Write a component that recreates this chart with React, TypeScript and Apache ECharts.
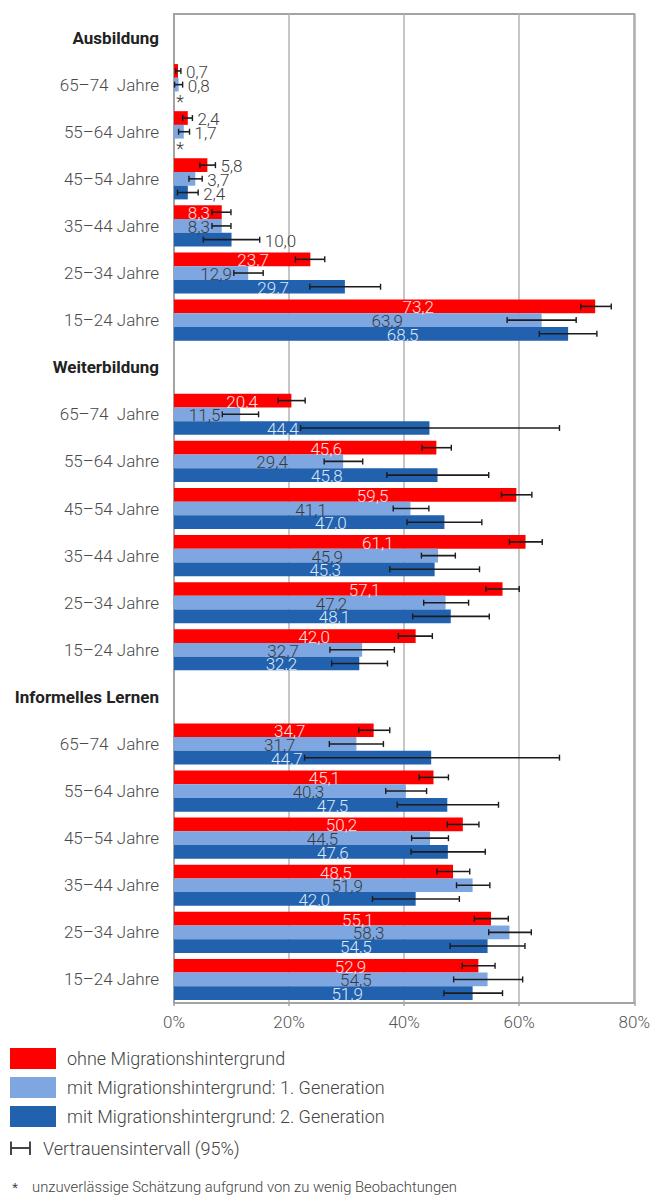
import { useEffect, useRef } from "react";
import * as echarts from "echarts";

// Sections and age groups (rows top to bottom within each section)
const sections = ["Ausbildung", "Weiterbildung", "Informelles Lernen"];
const ageGroups = ["65–74  Jahre", "55–64 Jahre", "45–54 Jahre", "35–44 Jahre", "25–34 Jahre", "15–24 Jahre"];

const seriesNames = [
  "ohne Migrationshintergrund",
  "mit Migrationshintergrund: 1. Generation",
  "mit Migrationshintergrund: 2. Generation",
];

// Participation in %, ordered Ausbildung, Weiterbildung, Informelles Lernen × age groups
const ohneMig = [0.7, 2.4, 5.8, 8.3, 23.7, 73.2, 20.4, 45.6, 59.5, 61.1, 57.1, 42.0, 34.7, 45.1, 50.2, 48.5, 55.1, 52.9];
const ohneMigLow = [0.3, 1.5, 4.5, 6.6, 21.1, 70.7, 18.1, 43.1, 56.9, 58.3, 54.2, 39.0, 32.1, 42.6, 47.5, 45.7, 52.2, 50.1];
const ohneMigHigh = [1.2, 3.2, 7.2, 9.9, 26.2, 76.0, 22.8, 48.2, 62.2, 64.0, 60.0, 44.9, 37.5, 47.7, 53.0, 51.4, 58.1, 55.8];

const gen1 = [0.8, 1.7, 3.7, 8.3, 12.9, 63.9, 11.5, 29.4, 41.1, 45.9, 47.2, 32.7, 31.7, 40.3, 44.5, 51.9, 58.3, 54.5];
const gen1Low = [0.1, 0.8, 2.6, 6.6, 10.4, 57.9, 8.4, 26.1, 38.1, 43.0, 43.4, 27.1, 27.0, 36.8, 41.3, 49.1, 54.7, 48.6];
const gen1High = [1.5, 2.7, 4.9, 9.9, 15.5, 69.9, 14.7, 32.8, 44.3, 48.9, 51.2, 38.3, 36.4, 43.9, 47.7, 54.9, 62.1, 60.6];

// null = unreliable estimate (too few observations), marked with *
const gen2 = [null, null, 2.4, 10.0, 29.7, 68.5, 44.4, 45.8, 47.0, 45.3, 48.1, 32.2, 44.7, 47.5, 47.6, 42.0, 54.5, 51.9];
const gen2Low = [null, null, 0.6, 5.1, 23.6, 63.5, 22.0, 37.0, 40.5, 37.5, 41.5, 27.4, 22.7, 38.8, 41.2, 34.5, 48.0, 46.9];
const gen2High = [null, null, 4.2, 14.9, 35.9, 73.5, 67.0, 54.7, 53.5, 53.1, 54.8, 37.1, 67.0, 56.4, 54.1, 49.6, 61.0, 57.1];

const xTicks = [0, 20, 40, 60, 80];

const colors = ["#ff0000", "#7ea7e1", "#2161ae"];
const insideLabelColors = ["#ffe2e2", "#3a3a3a", "#dce7f7"];
const outsideLabelColor = "#404040";
const FONT = "Roboto";
const VALUE_FONT_SIZE = 17;
const CAT_GAP = 0.127;

const seriesValues = [ohneMig, gen1, gen2];
const seriesLow = [ohneMigLow, gen1Low, gen2Low];
const seriesHigh = [ohneMigHigh, gen1High, gen2High];

const rowsPerSection = ageGroups.length + 1;
const categories: string[] = [];
sections.forEach((s) => {
  categories.push(s);
  ageGroups.forEach((a) => categories.push(a));
});
const rowOf = (i: number) => Math.floor(i / ageGroups.length) * rowsPerSection + 1 + (i % ageGroups.length);

const fmt = (v: number) => v.toFixed(1).replace(".", ",");

let measureCtx: CanvasRenderingContext2D | null = null;
const textWidth = (t: string) => {
  if (!measureCtx) {
    measureCtx = document.createElement("canvas").getContext("2d");
  }
  if (!measureCtx) return t.length * 8.5;
  measureCtx.font = `300 ${VALUE_FONT_SIZE}px ${FONT}`;
  return measureCtx.measureText(t).width;
};

// Value label + confidence interval whisker for bar series k
const makeRenderItem = (k: number) => (_params: any, api: any) => {
  const v = api.value(0);
  const row = api.value(1);
  const lo = api.value(2);
  const hi = api.value(3);
  const unreliable = api.value(4);
  const band = api.size([0, 1])[1];
  const bw = (band * (1 - CAT_GAP)) / 3;
  const base = api.coord([0, row]);
  const x0 = base[0];
  const yc = base[1] + (k - 1) * bw;
  if (unreliable) {
    return {
      type: "text",
      style: {
        text: "*",
        x: x0 + 6,
        y: yc + 3,
        align: "center",
        verticalAlign: "middle",
        fill: outsideLabelColor,
        fontSize: 18,
        fontFamily: FONT,
        fontWeight: 300,
      },
    };
  }
  const xv = api.coord([v, row])[0];
  const xl = api.coord([lo, row])[0];
  const xh = api.coord([hi, row])[0];
  const text = fmt(v);
  const half = textWidth(text) / 2;
  let cx = x0 + 0.58 * (xv - x0);
  if (cx + half > xl - 2) cx = xl - 2 - half;
  const inside = cx - half >= x0 + 4;
  const label = inside
    ? { x: cx, align: "center", fill: insideLabelColors[k] }
    : { x: xh + 5, align: "left", fill: outsideLabelColor };
  const stroke = "#1c1c1c";
  const capH = 3;
  return {
    type: "group",
    children: [
      {
        type: "text",
        style: {
          text,
          x: label.x,
          y: yc + 1,
          align: label.align,
          verticalAlign: "middle",
          fill: label.fill,
          fontSize: VALUE_FONT_SIZE,
          fontFamily: FONT,
          fontWeight: 300,
        },
      },
      { type: "line", shape: { x1: xl, y1: yc, x2: xh, y2: yc }, style: { stroke, lineWidth: 1.6 } },
      { type: "line", shape: { x1: xl, y1: yc - capH, x2: xl, y2: yc + capH }, style: { stroke, lineWidth: 1.4 } },
      { type: "line", shape: { x1: xh, y1: yc - capH, x2: xh, y2: yc + capH }, style: { stroke, lineWidth: 1.4 } },
    ],
  };
};

export default function App() {
  const ref = useRef<HTMLDivElement>(null);

  useEffect(() => {
    if (!ref.current) return;
    const chart = echarts.init(ref.current, undefined, { renderer: "svg" });

    const barSeries = seriesValues.map((vals, k) => {
      const data: any[] = categories.map(() => "-");
      vals.forEach((v, i) => {
        if (v != null) data[rowOf(i)] = v;
      });
      return {
        name: seriesNames[k],
        type: "bar",
        data,
        barGap: "0%",
        barCategoryGap: `${CAT_GAP * 100}%`,
        itemStyle: { color: colors[k] },
        silent: true,
        z: 2,
      };
    });

    const ciSeries = seriesValues.map((vals, k) => {
      const data = vals.map((v, i) =>
        v == null
          ? [0, rowOf(i), 0, 0, 1]
          : [v, rowOf(i), seriesLow[k][i], seriesHigh[k][i], 0]
      );
      return {
        name: `ci-${k}`,
        type: "custom",
        renderItem: makeRenderItem(k),
        encode: { x: 0, y: 1 },
        data,
        silent: true,
        z: 3,
      };
    });

    const ink = "#333";

    chart.setOption({
      animation: false,
      textStyle: { fontFamily: FONT },
      grid: {
        left: 174,
        right: 17,
        top: 14,
        bottom: 192,
        show: true,
        borderColor: "#a3a3a3",
        borderWidth: 2,
        containLabel: false,
      },
      legend: {
        data: seriesNames,
        orient: "vertical",
        left: 10,
        top: 1048,
        padding: 0,
        icon: "rect",
        itemWidth: 46,
        itemHeight: 21,
        itemGap: 8,
        selectedMode: false,
        textStyle: {
          fontSize: 18,
          fontWeight: 300,
          color: "#444",
          fontFamily: FONT,
          padding: [0, 0, 0, 6],
        },
      },
      xAxis: {
        type: "value",
        min: xTicks[0],
        max: xTicks[xTicks.length - 1],
        interval: 20,
        axisLine: { show: true, lineStyle: { color: "#a3a3a3", width: 2 } },
        axisTick: { show: true, length: 3, lineStyle: { color: "#a3a3a3", width: 1.5 } },
        splitLine: { show: true, lineStyle: { color: "#b3b3b3", width: 1.5 } },
        axisLabel: {
          formatter: "{value}%",
          fontSize: 17,
          fontWeight: 300,
          color: "#555",
          margin: 10,
          fontFamily: FONT,
        },
      },
      yAxis: {
        type: "category",
        inverse: true,
        data: categories,
        axisLine: { show: true, lineStyle: { color: "#a3a3a3", width: 2 } },
        axisTick: { show: false },
        axisLabel: {
          margin: 15,
          interval: 0,
          formatter: (val: string, idx: number) =>
            idx % rowsPerSection === 0 ? `{h|${val}}` : `{a|${val}}`,
          rich: {
            h: { fontSize: 17, fontWeight: "bold", color: "#222", fontFamily: FONT },
            a: { fontSize: 17, fontWeight: 300, color: "#4a4a4a", fontFamily: FONT },
          },
        },
      },
      graphic: [
        // confidence interval key
        { type: "line", shape: { x1: 11, y1: 1148, x2: 30, y2: 1148 }, style: { stroke: ink, lineWidth: 1.8 } },
        { type: "line", shape: { x1: 11, y1: 1141.5, x2: 11, y2: 1155 }, style: { stroke: ink, lineWidth: 1.8 } },
        { type: "line", shape: { x1: 30, y1: 1141.5, x2: 30, y2: 1155 }, style: { stroke: ink, lineWidth: 1.8 } },
        {
          type: "text",
          x: 43,
          y: 1148,
          style: {
            text: "Vertrauensintervall (95%)",
            fontSize: 18,
            fontWeight: 300,
            fill: "#444",
            fontFamily: FONT,
            verticalAlign: "middle",
          },
        },
        // footnote
        {
          type: "text",
          x: 15,
          y: 1194,
          style: {
            text: "*",
            fontSize: 13,
            lineHeight: 13,
            fill: "#444",
            fontFamily: FONT,
            align: "center",
            verticalAlign: "bottom",
          },
        },
        {
          type: "text",
          x: 32,
          y: 1187,
          style: {
            text: "unzuverlässige Schätzung aufgrund von zu wenig Beobachtungen",
            fontSize: 14.8,
            fontWeight: 300,
            fill: "#444",
            fontFamily: FONT,
            verticalAlign: "middle",
          },
        },
      ],
      series: [...barSeries, ...ciSeries],
    });

    return () => chart.dispose();
  }, []);

  return (
    <div
      ref={ref}
      style={{ position: "absolute", left: 0, top: 0, width: 653, height: 1195 }}
    />
  );
}
